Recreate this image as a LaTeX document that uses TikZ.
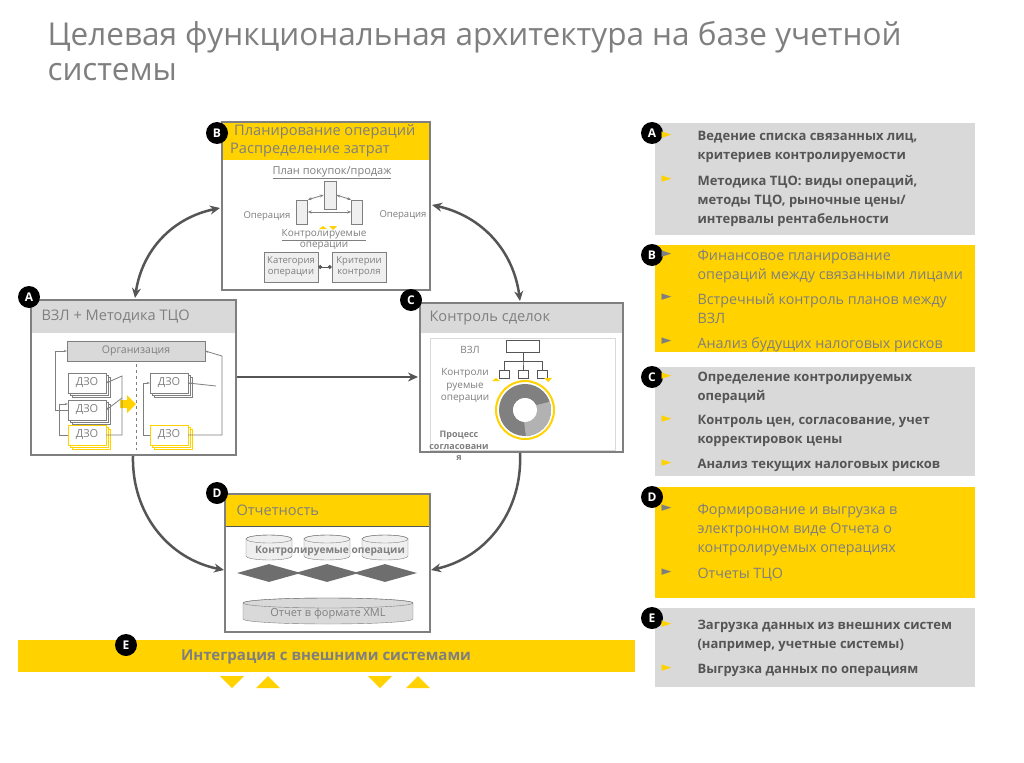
\documentclass[tikz,border=0pt]{standalone}
\usepackage{fontspec}
\setmainfont{Open Sans}
\newfontfamily\symfont{DejaVu Sans}
\usetikzlibrary{shapes.geometric,positioning,arrows.meta,calc,shadows}
\definecolor{eyYellow}{HTML}{FFD200}
\definecolor{eyGrey}{HTML}{7F7F7F}
\definecolor{eyDark}{HTML}{555555}
\definecolor{eyLight}{HTML}{D9D9D9}
\definecolor{eyPale}{HTML}{EFEFEF}

\begin{document}
\begin{tikzpicture}[x=1pt,y=-1pt,font=\fontsize{11}{13}\selectfont]

    % Styles
    \tikzset{
        badge/.style={circle, fill=black, text=white, minimum size=22, inner sep=0pt, font=\bfseries\fontsize{12}{12}\selectfont},
        frame/.style={draw=eyGrey, line width=1.2pt, fill=white},
        small/.style={draw=eyGrey, fill=eyPale, line width=.6pt},
        dzo/.style={draw=eyGrey, fill=white, minimum width=38, minimum height=20, inner sep=0pt, text=eyGrey, font=\fontsize{11}{11}\selectfont, double copy shadow={shadow xshift=2pt, shadow yshift=-2pt}},
        link/.style={-{Stealth[length=10pt,width=9pt]}, line width=2.5pt, draw=eyDark},
        wire/.style={eyGrey, line width=.8pt, -{Stealth[length=3pt]}},
        paneltext/.style={anchor=north west, align=left, font=\bfseries\fontsize{13}{19}\selectfont},
        plaintext/.style={anchor=north west, align=left, font=\fontsize{14.3}{19}\selectfont},
        bul/.style={anchor=north west, font=\symfont\fontsize{13}{19}\selectfont},
        head/.style={anchor=west, text=eyGrey, font=\fontsize{14.6}{18}\selectfont}
    }
    \useasboundingbox (0,0) rectangle (1024,762);
    \fill[white] (0,0) rectangle (1024,762);

    % Title
    \node[anchor=north west, align=left, text=eyGrey, font=\fontsize{31.5}{35}\selectfont] (title) at (44,18)
        {Целевая функциональная архитектура на базе учетной\\системы};

    % Box B
    \draw[frame] (222,122) rectangle (430,290);
    \fill[eyYellow] (223,123) rectangle (429,160);
    \node[anchor=north west, align=left, text=eyGrey, font=\fontsize{14.6}{18}\selectfont, inner sep=0pt] (bHead) at (230,124) {\hspace*{4pt}Планирование операций\\Распределение затрат};
    \node[badge] (bB) at (217,133) {B};
    \node[text=eyGrey, font=\fontsize{11}{11}\selectfont] (plan) at (332,173) {\underline{План покупок/продаж}};
    \node[small, minimum width=12, minimum height=28, inner sep=0pt] (opTop) at (330,195) {};
    \node[small, minimum width=11, minimum height=24, inner sep=0pt] (opLeft) at (302,212) {};
    \node[small, minimum width=11, minimum height=24, inner sep=0pt] (opRight) at (357,212) {};
    \draw[eyGrey, line width=.8pt, {Stealth[length=4pt]}-{Stealth[length=4pt]}] (opLeft.north east) -- (opTop.west);
    \draw[eyGrey, line width=.8pt, {Stealth[length=4pt]}-{Stealth[length=4pt]}] (opTop.east) -- (opRight.north west);
    \draw[eyGrey, line width=.8pt, {Stealth[length=4pt]}-{Stealth[length=4pt]}] (opLeft.east) -- (opRight.west);
    \node[text=eyGrey, font=\fontsize{9.5}{9}\selectfont] (opL) at (267,216) {Операция};
    \node[text=eyGrey, font=\fontsize{9.5}{9}\selectfont] (opR) at (403,215) {Операция};
    \node[text=eyGrey, align=center, font=\fontsize{10}{11}\selectfont] (ctrl) at (324,240) {\underline{Контролируемые}\\операции};
    \fill[eyYellow] (319,229) -- (323,226) -- (327,229) -- cycle;
    \fill[eyYellow] (329,226) -- (337,226) -- (333,230) -- cycle;
    \node[small, minimum width=54, minimum height=30, align=center, text=eyGrey, font=\fontsize{9.5}{11}\selectfont, inner sep=0pt] (cat) at (291,267) {Категория\\операции};
    \node[small, minimum width=54, minimum height=30, align=center, text=eyGrey, font=\fontsize{9.5}{11}\selectfont, inner sep=0pt] (crit) at (359,267) {Критерии\\контроля};
    \draw[eyDark, line width=.8pt, {Circle[length=4pt]}-{Circle[length=4pt]}] (cat.east) -- (crit.west);

    % Box A
    \draw[frame] (31,300) rectangle (236,455);
    \fill[eyLight] (32,301) rectangle (235,333);
    \node[head] (aHead) at (38,317) {ВЗЛ + Методика ТЦО};
    \node[badge] (bA) at (29,297) {A};
    \node[draw=eyGrey, fill=eyLight, minimum width=138, minimum height=20, inner sep=0pt, text=eyGrey, font=\fontsize{10.5}{10}\selectfont] (org) at (136,351) {Организация};
    \node[dzo] (d1) at (87,383) {ДЗО};
    \node[dzo] (d2) at (87,410) {ДЗО};
    \node[dzo, draw=eyYellow] (d3) at (87,435) {ДЗО};
    \node[dzo] (d4) at (169,383) {ДЗО};
    \node[dzo, draw=eyYellow] (d5) at (169,435) {ДЗО};
    \draw[eyGrey, dashed, line width=.8pt] (136,364) -- (136,450);
    \fill[eyYellow] (120,400) -- (127,400) -- (127,395) -- (136,404) -- (127,413) -- (127,408) -- (120,408) -- cycle;
    \draw[wire] (d2.west) -- ++(-12,0) |- (org.west);
    \draw[wire] (d3.west) -- ++(-8,0) |- ($(d2.west)+(0,-6)$);
    \draw[wire] (d3.east) -| (122,376) -- (d1.east);
    \draw[wire] (122,398) -- (d2.east);
    \draw[wire] (d5.east) -| (222,356) -- (org.east);
    \draw[wire] (d5.west) -- ++(-6,0) |- (d4.west);
    \draw[wire] (216,386) -- (d4.east);

    % Box C
    \draw[frame] (420,303) rectangle (623,452);
    \fill[eyLight] (421,304) rectangle (622,333);
    \node[head] (cHead) at (426,318) {Контроль сделок};
    \node[badge] (bC) at (411,300) {C};
    \draw[eyLight, line width=1pt] (430,338) rectangle (615,450);
    \node[text=eyGrey, font=\fontsize{10}{10}\selectfont] (vzl) at (470,350) {ВЗЛ};
    \node[draw=eyDark, minimum width=33, minimum height=12, inner sep=0pt] (top) at (523,346) {};
    \foreach \i/\xx in {1/504,2/523,3/542}{
        \node[draw=eyDark, minimum width=10, minimum height=8, inner sep=0pt] (s\i) at (\xx,374) {};
        \draw[eyDark, line width=.6pt] (top.south) -- (523,361) -| (s\i.north);
    }
    \fill[eyYellow] (492,381) -- (496,378) -- (500,381) -- cycle;
    \fill[eyYellow] (544,378) -- (552,378) -- (548,382) -- cycle;
    \node[text=eyGrey, align=center, font=\fontsize{10}{12.5}\selectfont] (kro) at (465,386) {Контроли\\руемые\\операции};
    \draw[eyYellow, line width=2pt] (525,410) circle (29);
    \draw[eyDark!75!white, line width=14pt] (525,410) circle (19);
    \draw[eyGrey!60!white, line width=14pt] ($(525,410)+(90:19)$) arc (90:-20:19);
    \fill[white] (525,410) circle (12);
    \node[text=eyGrey, align=center, font=\bfseries\fontsize{9}{11.5}\selectfont] (proc) at (459,446) {Процесс\\согласовани\\я};

    % Box D
    \draw[frame] (225,494) rectangle (430,632);
    \fill[eyYellow] (226,495) rectangle (429,526);
    \draw[eyDark, line width=1pt] (226,526) -- (429,526);
    \node[head] (dHead) at (233,510) {Отчетность};
    \node[badge] (bD) at (217,493) {D};
    \foreach \xx in {269,327,385}{
        \filldraw[draw=eyGrey, fill=eyPale] (\xx-23,539) -- (\xx-23,556) arc (180:0:23 and 4) -- (\xx+23,539) arc (0:-180:23 and 4) -- cycle;
        \draw[eyGrey] (\xx,539) ellipse (23 and 4);
    }
    \node[text=eyGrey, font=\bfseries\fontsize{10.2}{10}\selectfont] (kop) at (330,551) {Контролируемые операции};
    \foreach \d/\xx in {1/269,2/327,3/385}{
        \node[diamond, fill=eyDark!85!white, minimum width=64, minimum height=18, inner sep=0pt] (dia\d) at (\xx,573) {};
    }
    \filldraw[draw=eyGrey, fill=eyLight] (243,603) -- (243,619) arc (180:0:85 and 5) -- (413,603) arc (0:-180:85 and 5) -- cycle;
    \draw[eyGrey] (328,603) ellipse (85 and 5);
    \node[text=eyGrey, font=\fontsize{11}{10}\selectfont] (xmlT) at (328,614) {Отчет в формате XML};

    % Integration bar
    \fill[eyYellow] (18,640) rectangle (635,672);
    \node[text=eyGrey, font=\bfseries\fontsize{15}{16}\selectfont] (integ) at (326,657) {Интеграция с внешними системами};
    \node[badge] (bE) at (126,645) {E};
    \foreach \xx in {232,380}{ \fill[eyYellow] (\xx-12,676) -- (\xx+12,676) -- (\xx,688) -- cycle; }
    \foreach \xx in {268,418}{ \fill[eyYellow] (\xx-12,688) -- (\xx+12,688) -- (\xx,676) -- cycle; }

    % Arrows
    \draw[link, {Stealth[length=10pt,width=9pt]}-{Stealth[length=10pt,width=9pt]}] (220,208) to[bend right=35] (135,298);
    \draw[link, {Stealth[length=10pt,width=9pt]}-{Stealth[length=10pt,width=9pt]}] (432,205) to[bend left=35] (520,301);
    \draw[link] (237,377) -- (418,377);
    \draw[link] (133,456) to[bend right=40] (224,570);
    \draw[link] (520,453) to[bend left=40] (431,570);

    % Right panels
    \fill[eyLight] (655,123) rectangle (975,235);
    \fill[eyYellow] (655,245) rectangle (975,352);
    \fill[eyLight] (655,367) rectangle (975,476);
    \fill[eyYellow] (655,487) rectangle (975,598);
    \fill[eyLight] (655,608) rectangle (975,687);
    \foreach \l/\yy in {A/133,B/255,C/377,D/497,E/618}{
        \node[badge] (p\l) at (652,\yy) {\l};
    }
    % A
    \node[bul, text=eyYellow] at (658,128) {►};
    \node[paneltext, text=eyDark] (pa1) at (694,128) {Ведение списка связанных лиц,\\критериев контролируемости};
    \node[bul, text=eyYellow] at (658,172) {►};
    \node[paneltext, text=eyDark] (pa2) at (694,172) {Методика ТЦО: виды операций,\\методы ТЦО, рыночные цены/\\интервалы рентабельности};
    % B
    \node[bul, text=eyGrey] at (658,247) {►};
    \node[plaintext, text=eyGrey] (pb1) at (694,247) {Финансовое планирование\\операций между связанными лицами};
    \node[bul, text=eyGrey] at (658,290) {►};
    \node[plaintext, text=eyGrey] (pb2) at (694,290) {Встречный контроль планов между\\ВЗЛ};
    \node[bul, text=eyGrey] at (658,334) {►};
    \node[plaintext, text=eyGrey] (pb3) at (694,334) {Анализ будущих налоговых рисков};
    % C
    \node[bul, text=eyYellow] at (658,369) {►};
    \node[paneltext, text=eyDark] (pc1) at (694,369) {Определение контролируемых\\операций};
    \node[bul, text=eyYellow] at (658,412) {►};
    \node[paneltext, text=eyDark] (pc2) at (694,412) {Контроль цен, согласование, учет\\корректировок цены};
    \node[bul, text=eyYellow] at (658,456) {►};
    \node[paneltext, text=eyDark] (pc3) at (694,456) {Анализ текущих налоговых рисков};
    % D
    \node[bul, text=eyGrey] at (658,501) {►};
    \node[plaintext, text=eyGrey] (pd1) at (694,501) {Формирование и выгрузка в\\электронном виде Отчета о\\контролируемых операциях};
    \node[bul, text=eyGrey] at (658,565) {►};
    \node[plaintext, text=eyGrey] (pd2) at (694,565) {Отчеты ТЦО};
    % E
    \node[bul, text=eyYellow] at (658,617) {►};
    \node[paneltext, text=eyDark] (pe1) at (694,617) {Загрузка данных из внешних систем\\(например, учетные системы)};
    \node[bul, text=eyYellow] at (658,661) {►};
    \node[paneltext, text=eyDark] (pe2) at (694,661) {Выгрузка данных по операциям};
\end{tikzpicture}
\end{document}
